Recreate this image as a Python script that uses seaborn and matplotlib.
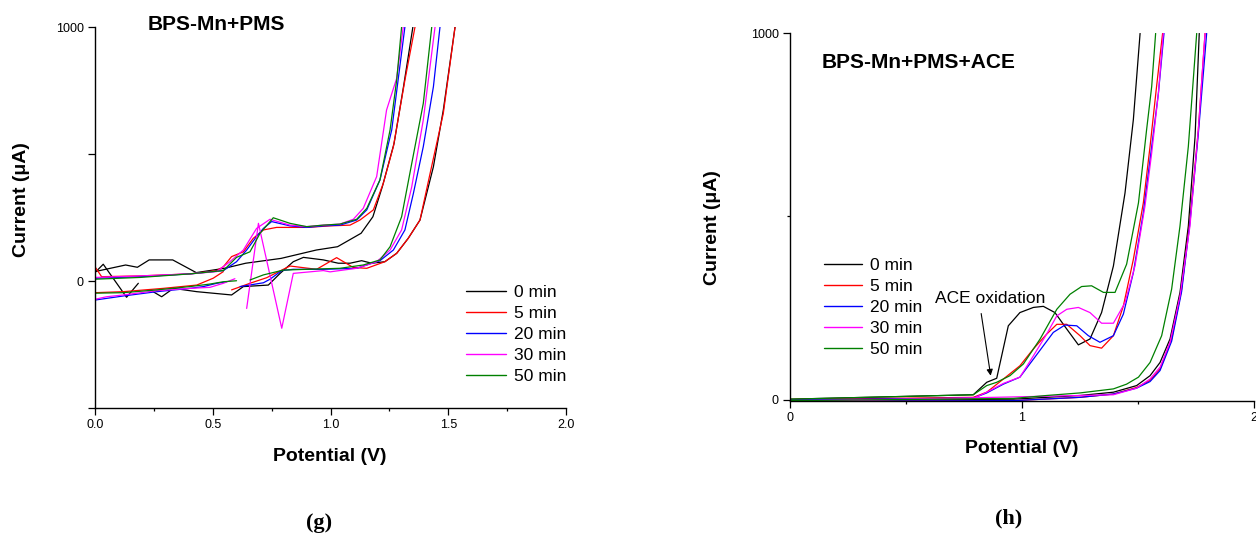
import matplotlib
matplotlib.use("Agg")
import matplotlib.pyplot as plt
import numpy as np
import pandas as pd
import seaborn as sns
from matplotlib.lines import Line2D

sns.set_theme(style="ticks")
plt.rcParams['font.family'] = ['Liberation Sans', 'DejaVu Sans']
plt.rcParams['text.color'] = 'black'
plt.rcParams['axes.labelcolor'] = 'black'
plt.rcParams['xtick.color'] = 'black'
plt.rcParams['ytick.color'] = 'black'

series = ["0 min", "5 min", "20 min", "30 min", "50 min"]
colors = ["#000000", "#ff0000", "#0000ff", "#ff00ff", "#008000"]

# ---------------- Panel (g): BPS-Mn+PMS ----------------
g_black_a_V = [0.00, 0.13, 0.18, 0.23, 0.33, 0.43, 0.55, 0.64, 0.79, 0.94, 1.03, 1.13, 1.18, 1.22, 1.27, 1.31, 1.35]
g_black_a_I = [37, 63, 54, 83, 83, 33, 50, 70, 89, 122, 135, 188, 253, 371, 542, 765, 1001]
g_black_b1_V = [0.00, 0.035, 0.134, 0.184]
g_black_b1_I = [33, 66, -64, -9]
g_black_b2_V = [0.234, 0.283, 0.333, 0.432, 0.580, 0.630, 0.736, 0.786, 0.842, 0.885, 0.970, 1.033, 1.083, 1.132,
                1.175, 1.231, 1.281, 1.330, 1.380, 1.437, 1.479, 1.529]
g_black_b2_I = [-35, -62, -29, -42, -55, -22, -16, 30, 76, 93, 83, 70, 70, 80, 70, 76, 109, 168, 240, 450, 673, 1001]

g_red_a_V = [0.0, 0.028, 0.191, 0.403, 0.517, 0.545, 0.580, 0.630, 0.672, 0.715, 0.771, 0.899, 0.998, 1.083, 1.125,
             1.182, 1.224, 1.267, 1.316, 1.359]
g_red_a_I = [56, 17, 20, 28, 41, 56, 96, 115, 168, 201, 211, 211, 217, 220, 240, 280, 384, 529, 791, 1001]
g_red_b1_V = [0.0, 0.120, 0.290, 0.432, 0.502, 0.545]
g_red_b1_I = [-46, -42, -29, -16, 11, 37]
g_red_b2_V = [0.580, 0.658, 0.729, 0.793, 0.828, 0.941, 1.026, 1.097, 1.154, 1.231, 1.281, 1.330, 1.380, 1.423,
              1.479, 1.529]
g_red_b2_I = [-35, -9, 13, 43, 59, 46, 92, 53, 50, 76, 109, 168, 240, 424, 660, 1001]

g_blue_a_V = [0.0, 0.191, 0.403, 0.545, 0.601, 0.644, 0.686, 0.715, 0.750, 0.828, 0.899, 0.970, 1.040, 1.111, 1.154,
              1.210, 1.260, 1.288, 1.316]
g_blue_a_I = [11, 17, 28, 41, 76, 122, 175, 207, 234, 217, 211, 217, 220, 240, 280, 398, 595, 798, 1001]
g_blue_b1_V = [0.0, 0.120, 0.262, 0.403, 0.460, 0.517, 0.559]
g_blue_b1_I = [-75, -59, -42, -29, -22, -9, -3]
g_blue_b2_V = [0.616, 0.715, 0.743, 0.793, 0.842, 0.970, 1.111, 1.210, 1.267, 1.316, 1.352, 1.394, 1.437, 1.465]
g_blue_b2_I = [-22, -7, 7, 41, 46, 46, 50, 80, 122, 201, 345, 529, 765, 1001]

g_mag_a_V = [0.0, 0.191, 0.403, 0.517, 0.573, 0.630, 0.686, 0.743, 0.828, 0.899, 0.970, 1.040, 1.097, 1.139, 1.196,
             1.238, 1.281, 1.309]
g_mag_a_I = [14, 20, 28, 37, 76, 122, 207, 243, 220, 214, 220, 224, 243, 286, 411, 673, 798, 1001]
g_mag_b1_V = [0.0, 0.049, 0.120, 0.262, 0.403, 0.488, 0.545, 0.594]
g_mag_b1_I = [-72, -62, -55, -38, -29, -25, -9, 9]
g_mag_b2_V = [0.644, 0.694, 0.793, 0.842, 0.970, 0.998, 1.111, 1.196, 1.253, 1.302, 1.345, 1.394, 1.444]
g_mag_b2_I = [-108, 227, -186, 30, 41, 36, 50, 76, 122, 201, 371, 634, 1001]

g_green_a_V = [0.0, 0.191, 0.403, 0.545, 0.601, 0.658, 0.701, 0.757, 0.828, 0.899, 0.970, 1.040, 1.111, 1.154, 1.210,
               1.253, 1.281, 1.302]
g_green_a_I = [7, 14, 28, 41, 93, 115, 188, 249, 227, 214, 220, 224, 243, 286, 398, 595, 791, 1001]
g_green_b1_V = [0.0, 0.120, 0.262, 0.403, 0.488, 0.545, 0.601]
g_green_b1_I = [-48, -46, -35, -22, -12, -3, 1]
g_green_b2_V = [0.658, 0.715, 0.800, 0.899, 1.040, 1.139, 1.210, 1.253, 1.302, 1.345, 1.394, 1.430]
g_green_b2_I = [4, 24, 43, 46, 50, 63, 83, 135, 253, 463, 699, 1001]

# ---------------- Panel (h): BPS-Mn+PMS+ACE ----------------
h_black_a_V = [0.0, 0.79, 0.848, 0.891, 0.941, 0.991, 1.049, 1.092, 1.142, 1.193, 1.243, 1.293, 1.343, 1.394, 1.444,
               1.480, 1.509]
h_black_a_I = [2, 14, 48, 59, 202, 238, 252, 255, 238, 193, 150, 166, 238, 365, 564, 764, 999]
h_black_b_V = [0.0, 0.963, 1.250, 1.394, 1.494, 1.552, 1.595, 1.638, 1.681, 1.717, 1.746, 1.764]
h_black_b_I = [-2, 2, 12, 21, 39, 66, 102, 166, 293, 474, 718, 999]

h_red_a_V = [0.0, 0.79, 0.848, 0.920, 0.991, 1.049, 1.106, 1.150, 1.193, 1.250, 1.293, 1.343, 1.394, 1.437, 1.480,
             1.523, 1.552, 1.580, 1.606]
h_red_a_I = [1, 7, 21, 57, 93, 139, 179, 206, 206, 175, 148, 141, 175, 256, 383, 537, 691, 854, 999]
h_red_b_V = [0.0, 0.963, 1.250, 1.394, 1.494, 1.552, 1.595, 1.645, 1.688, 1.724, 1.760, 1.789]
h_red_b_I = [-4, -2, 7, 16, 34, 53, 84, 166, 302, 492, 736, 999]

h_blue_a_V = [0.0, 0.79, 0.848, 0.920, 0.991, 1.049, 1.135, 1.185, 1.236, 1.286, 1.336, 1.394, 1.437, 1.480, 1.523,
              1.552, 1.588, 1.612]
h_blue_a_I = [0, 5, 19, 43, 62, 111, 184, 204, 202, 175, 157, 175, 234, 347, 510, 655, 836, 999]
h_blue_b_V = [0.0, 0.963, 1.250, 1.394, 1.494, 1.552, 1.595, 1.645, 1.688, 1.724, 1.760, 1.796]
h_blue_b_I = [-4, -2, 7, 16, 32, 50, 80, 160, 295, 483, 725, 999]

h_mag_a_V = [0.0, 0.79, 0.848, 0.920, 0.991, 1.049, 1.106, 1.150, 1.193, 1.243, 1.293, 1.343, 1.394, 1.444, 1.487,
             1.530, 1.559, 1.588, 1.609]
h_mag_a_I = [-2, 4, 21, 45, 62, 120, 179, 229, 247, 252, 238, 209, 209, 265, 365, 528, 673, 836, 999]
h_mag_b_V = [0.0, 1.394, 1.494, 1.552, 1.595, 1.638, 1.681, 1.724, 1.760, 1.789]
h_mag_b_I = [-5, 14, 32, 57, 89, 157, 283, 474, 736, 999]

h_green_a_V = [0.0, 0.79, 0.848, 0.891, 0.948, 1.006, 1.078, 1.150, 1.207, 1.257, 1.300, 1.351, 1.401, 1.451, 1.502,
               1.537, 1.559, 1.576]
h_green_a_I = [2, 14, 39, 48, 66, 98, 166, 247, 288, 309, 311, 293, 293, 370, 537, 736, 854, 999]
h_green_b_V = [0.0, 0.963, 1.106, 1.250, 1.394, 1.451, 1.502, 1.552, 1.602, 1.645, 1.681, 1.717, 1.753]
h_green_b_I = [-2, 4, 12, 19, 30, 43, 62, 102, 175, 302, 474, 691, 999]

g_segments = [
    ("0 min", "g0a", g_black_a_V, g_black_a_I), ("0 min", "g0b1", g_black_b1_V, g_black_b1_I),
    ("0 min", "g0b2", g_black_b2_V, g_black_b2_I),
    ("5 min", "g5a", g_red_a_V, g_red_a_I), ("5 min", "g5b1", g_red_b1_V, g_red_b1_I),
    ("5 min", "g5b2", g_red_b2_V, g_red_b2_I),
    ("20 min", "g20a", g_blue_a_V, g_blue_a_I), ("20 min", "g20b1", g_blue_b1_V, g_blue_b1_I),
    ("20 min", "g20b2", g_blue_b2_V, g_blue_b2_I),
    ("30 min", "g30a", g_mag_a_V, g_mag_a_I), ("30 min", "g30b1", g_mag_b1_V, g_mag_b1_I),
    ("30 min", "g30b2", g_mag_b2_V, g_mag_b2_I),
    ("50 min", "g50a", g_green_a_V, g_green_a_I), ("50 min", "g50b1", g_green_b1_V, g_green_b1_I),
    ("50 min", "g50b2", g_green_b2_V, g_green_b2_I),
]
h_segments = [
    ("0 min", "h0a", h_black_a_V, h_black_a_I), ("0 min", "h0b", h_black_b_V, h_black_b_I),
    ("5 min", "h5a", h_red_a_V, h_red_a_I), ("5 min", "h5b", h_red_b_V, h_red_b_I),
    ("20 min", "h20a", h_blue_a_V, h_blue_a_I), ("20 min", "h20b", h_blue_b_V, h_blue_b_I),
    ("30 min", "h30a", h_mag_a_V, h_mag_a_I), ("30 min", "h30b", h_mag_b_V, h_mag_b_I),
    ("50 min", "h50a", h_green_a_V, h_green_a_I), ("50 min", "h50b", h_green_b_V, h_green_b_I),
]


def to_frame(segments):
    frames = []
    for name, seg, V, I in segments:
        frames.append(pd.DataFrame({"V": V, "I": I, "series": name, "seg": seg}))
    return pd.concat(frames, ignore_index=True)


palette = dict(zip(series, colors))
W, H = 1256, 536
fig = plt.figure(figsize=(W / 100, H / 100), dpi=100)
fig.patch.set_facecolor("white")

ax1 = fig.add_axes([95 / W, 1 - 408 / H, (566 - 95) / W, (408 - 27) / H])
ax2 = fig.add_axes([790 / W, 1 - 401 / H, (1254 - 790) / W, (401 - 33) / H])

for ax, segs in ((ax1, g_segments), (ax2, h_segments)):
    df = to_frame(segs)
    sns.lineplot(data=df, x="V", y="I", hue="series", units="seg", estimator=None, sort=False,
                 palette=palette, hue_order=series, linewidth=0.9, legend=False, ax=ax)
    ax.set_facecolor("white")
    for side in ("top", "right"):
        ax.spines[side].set_visible(False)
    for side in ("left", "bottom"):
        ax.spines[side].set_color("black")
        ax.spines[side].set_linewidth(1.0)
    ax.tick_params(which="major", direction="out", length=5, width=0.9, colors="black", labelsize=9, pad=3)
    ax.tick_params(which="minor", direction="out", length=2.5, width=0.9, colors="black")
    ax.grid(False)

# Panel g axes
ax1.set_xlim(0, 2)
ax1.set_ylim(-500, 1000)
ax1.set_xticks([0, 0.5, 1.0, 1.5, 2.0])
ax1.set_xticklabels(["0.0", "0.5", "1.0", "1.5", "2.0"])
ax1.set_xticks([0.25, 0.75, 1.25, 1.75], minor=True)
ax1.set_yticks([-500, 0, 500, 1000])
ax1.set_yticklabels(["", "0", "", "1000"])

# Panel h axes
ax2.set_xlim(0, 2)
ax2.set_ylim(-3, 1000)
ax2.set_xticks([0, 1, 2])
ax2.set_xticklabels(["0", "1", "2"])
ax2.set_xticks([0.5, 1.5], minor=True)
ax2.set_yticks([0, 1000])
ax2.set_yticklabels(["0", "1000"])
ax2.set_yticks([500], minor=True)

# Axis labels
for ax, xc, yc, yx, yy in ((ax1, 0.499, -0.128, -0.157, 0.546), (ax2, 0.5, -0.128, -0.166, 0.47)):
    ax.set_xlabel("Potential (V)", fontsize=14, fontweight="bold", color="black")
    ax.xaxis.label.set_va("center")
    ax.xaxis.set_label_coords(xc, yc)
    ax.set_ylabel("Current (μA)", fontsize=14, fontweight="bold", color="black")
    ax.yaxis.label.set_va("center")
    ax.yaxis.set_label_coords(yx, yy)

# Titles inside panels
fig.text(148 / W, 1 - 25 / H, "BPS-Mn+PMS", fontsize=15, fontweight="bold", ha="left", va="center",
         color="black")
fig.text(822 / W, 1 - 62 / H, "BPS-Mn+PMS+ACE", fontsize=15, fontweight="bold", ha="left", va="center",
         color="black")

# Legends
handles = [Line2D([0], [0], color=c, lw=1.0) for c in colors]
ax1.legend(handles, series, loc="upper left", bbox_to_anchor=(466 / W, 1 - 285 / H),
           bbox_transform=fig.transFigure, frameon=False, fontsize=12.5, handlelength=2.3,
           handletextpad=0.45, labelspacing=0.34, borderpad=0, borderaxespad=0, labelcolor="black")
ax2.legend(handles, series, loc="upper left", bbox_to_anchor=(824 / W, 1 - 258 / H),
           bbox_transform=fig.transFigure, frameon=False, fontsize=12.5, handlelength=2.2,
           handletextpad=0.45, labelspacing=0.34, borderpad=0, borderaxespad=0, labelcolor="black")

# Annotation
ax2.annotate("ACE oxidation", xy=(0.865, 66), xytext=(0.862, 276), ha="center", va="center",
             fontsize=12.5, color="black",
             arrowprops=dict(arrowstyle="-|>", color="black", lw=0.8, relpos=(0.41, 0.0),
                             shrinkA=3, shrinkB=0, mutation_scale=9))

# Panel labels
fig.text(319 / W, 1 - 523 / H, "(g)", fontsize=16, fontweight="bold", family=["Liberation Serif", "DejaVu Serif"],
         ha="center", va="center", color="black")
fig.text(1009 / W, 1 - 518 / H, "(h)", fontsize=16, fontweight="bold", family=["Liberation Serif", "DejaVu Serif"],
         ha="center", va="center", color="black")

fig.savefig("out.png", dpi=100, facecolor="white")
